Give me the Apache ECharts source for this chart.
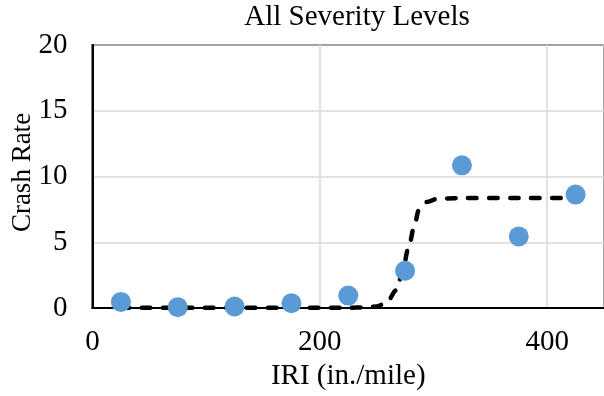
<!DOCTYPE html>
<html>
<head>
<meta charset="utf-8">
<script src="https://cdn.jsdelivr.net/npm/echarts@6/dist/echarts.min.js"></script>
<style>
  html, body { margin: 0; padding: 0; background: #fff; }
  #chart { width: 604px; height: 396px; }
</style>
</head>
<body>
<div id="chart"></div>
<script>
// Observed crash rates by IRI bin
const iriBins = [25, 75, 125, 175, 225, 275, 325, 375, 425];
const crashRates = [0.47, 0.07, 0.12, 0.37, 0.95, 2.84, 10.85, 5.45, 8.63];

// Fitted step-shaped trend (dashed line)
const fitIri = [25, 75, 125, 175, 225, 240, 250, 259, 267, 272, 278, 283, 287, 294, 303, 320, 375, 425];
const fitRate = [0.02, 0.02, 0.02, 0.02, 0.03, 0.06, 0.12, 0.43, 1.34, 2.46, 4.57, 6.19, 7.44, 8.06, 8.3, 8.36, 8.36, 8.36];

const xTicks = [0, 200, 400];
const yTicks = [0, 5, 10, 15, 20];

const FONT = '"Liberation Serif", "Times New Roman", serif';
const FS = 29;

const chart = echarts.init(document.getElementById('chart'), null, { renderer: 'canvas' });

chart.setOption({
  animation: false,
  backgroundColor: '#ffffff',
  title: {
    text: 'All Severity Levels',
    left: 357,
    top: 0,
    padding: [3, 0, 0, 0],
    textAlign: 'center',
    textStyle: { fontFamily: FONT, fontSize: FS, fontWeight: 'normal', color: '#000' }
  },
  graphic: [{
    type: 'text',
    x: 23,
    y: 172.5,
    rotation: Math.PI / 2,
    style: {
      text: 'Crash Rate',
      font: '27px ' + FONT,
      fill: '#000',
      textAlign: 'center',
      textVerticalAlign: 'middle'
    }
  }],
  grid: {
    left: 92.5,
    top: 45,
    width: 519,
    height: 268,
    show: true,
    borderColor: '#000',
    borderWidth: 2,
    backgroundColor: 'transparent'
  },
  xAxis: {
    type: 'value',
    min: xTicks[0],
    max: 450,
    interval: xTicks[1] - xTicks[0],
    name: 'IRI (in./mile)',
    nameLocation: 'middle',
    nameGap: 50,
    nameTextStyle: { fontFamily: FONT, fontSize: FS, color: '#000' },
    axisLine: { show: true, lineStyle: { color: '#000', width: 2 } },
    axisTick: { show: false },
    axisLabel: {
      fontFamily: FONT, fontSize: FS, color: '#000', margin: 20,
      showMaxLabel: false,
      formatter: v => (xTicks.indexOf(v) >= 0 ? String(v) : '')
    },
    splitLine: { show: true, lineStyle: { color: '#d9d9d9', width: 1.5 } }
  },
  yAxis: {
    type: 'value',
    min: yTicks[0],
    max: yTicks[yTicks.length - 1],
    interval: yTicks[1] - yTicks[0],
    axisLine: { show: true, lineStyle: { color: '#000', width: 2 } },
    axisTick: { show: false },
    axisLabel: { fontFamily: FONT, fontSize: FS, color: '#000', margin: 25 },
    splitLine: { show: true, lineStyle: { color: '#d9d9d9', width: 1.5 } }
  },
  series: [
    {
      name: 'Fit',
      type: 'line',
      data: fitIri.map((x, i) => [x, fitRate[i]]),
      smooth: 0.3,
      smoothMonotone: 'x',
      showSymbol: false,
      symbol: 'none',
      z: 2,
      lineStyle: { color: '#000', width: 4.5, type: [8.5, 12.5], cap: 'round', join: 'round' }
    },
    {
      name: 'Crash Rate',
      type: 'scatter',
      data: iriBins.map((x, i) => [x, crashRates[i]]),
      symbol: 'circle',
      symbolSize: 20,
      z: 3,
      itemStyle: { color: '#5b9bd5', opacity: 1 }
    }
  ]
});
</script>
</body>
</html>
